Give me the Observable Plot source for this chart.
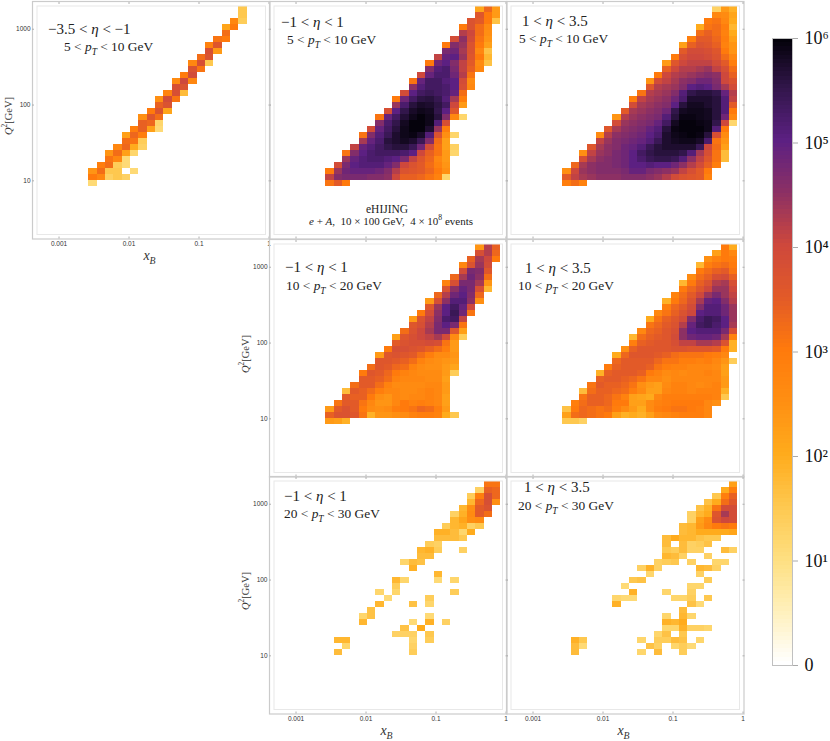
<!DOCTYPE html>
<html>
<head>
<meta charset="utf-8">
<script src="https://cdn.jsdelivr.net/npm/d3@7"></script>
<script src="https://cdn.jsdelivr.net/npm/@observablehq/plot@0.6"></script>
<style>
  html, body { margin: 0; background: #fff; }
  #page { position: relative; width: 830px; height: 741px; overflow: hidden; }
  #page svg { position: absolute; }
  .note { position: absolute; font-family: "Liberation Serif", serif; color: #222; white-space: nowrap; line-height: 1; }
  .note sub { font-size: 70%; line-height: 0; }
  .note sup { font-size: 70%; line-height: 0; }
  .axis-title { position: absolute; font-family: "Liberation Serif", serif; color: #333; white-space: nowrap; line-height: 1; }
  .axis-title sub, .axis-title sup { font-size: 70%; line-height: 0; }
</style>
</head>
<body>
<div id="page"></div>
<script>
// bin edges
const xEdges = [0.00266, 0.0035, 0.0046, 0.00605, 0.00796, 0.01047, 0.01377, 0.0181, 0.0238, 0.0313, 0.0412,
  0.0542, 0.0713, 0.0938, 0.123, 0.162, 0.213, 0.281, 0.369, 0.485, 0.638, 0.84];
const yEdges = [8.33, 10, 12, 14.4, 17.3, 20.8, 24.9, 29.9, 35.9, 43.1, 51.7, 62.1, 74.5, 89.5, 107, 129, 155,
  186, 223, 268, 321, 386, 463, 556, 667, 801, 961, 1154, 1385, 1662, 1995];

const xTicks = [0.001, 0.01, 0.1, 1];
const yTicks = [10, 100, 1000];
const barTicks = [0, 1, 2, 3, 4, 5, 6];
const barTickLabels = ["0", "10¹", "10²", "10³", "10⁴", "10⁵", "10⁶"];

// log10(counts) on the colour bar's axis
const colorStops = [0, 0.5, 1, 1.5, 2, 2.5, 3, 3.5, 4, 4.5, 5, 5.5, 6];
const colorHex = ["#ffffff", "#fff0bb", "#fedf80", "#fec84f", "#ffab1c", "#ff8f12", "#ff7a0c", "#e25a28", "#ce483c",
  "#8c3064", "#5c2082", "#32164b", "#000005"];

// each row: [row, first column, log10 counts...]; row 0 starts at Q2 = 10
const panelA = [
  [-1,0,1.1],
  [0,0,3.0,2.7,1.3,1.5,1.3],
  [1,0,2.4,3.2,1.5,1.5],[1,5,1.1],
  [2,1,2.9,3.2,1.4,1.1],
  [3,2,3.1,2.7,1.1],
  [4,2,2.4,3.2,2.2,1.2],
  [5,3,2.7,3.3,2.0,1.3],
  [6,4,3.2,3.1,1.4],
  [7,4,2.2,3.3,2.9],
  [8,5,2.9,3.4,2.2,1.1],
  [9,6,3.4,3.3,1.2],
  [10,6,2.5,3.6,3.2],
  [11,7,3.0,3.7,2.1],
  [12,8,3.4,3.7],
  [13,8,2.5,3.9,3.1],
  [14,9,2.8,3.8,1.7],
  [15,10,3.8,3.7],
  [16,10,2.6,4.0,2.7],
  [17,11,3.0,3.9],
  [18,12,3.7,3.1],
  [19,12,2.7,3.8,1.5],
  [20,13,3.2,3.7],
  [21,14,3.8,2.3],
  [22,14,2.8,3.6],
  [23,15,3.1,3.0],
  [24,16,3.2],
  [25,16,2.1,3.0],
  [26,17,2.7,1.4],
  [27,18,1.5],
  [28,18,1.5]
];
const panelB = [
  [-1,0,3.1,3.5,3.0],
  [0,0,4.1,4.6,4.7,4.7,4.7,4.6,4.6,4.5,4.0,3.4,3.4,3.3,3.1,2.8,1.2],
  [1,0,3.0,4.4,4.8,4.9,4.9,4.9,4.8,4.6,4.2,3.7,3.6,3.5,3.3,3.0,2.5],
  [2,1,3.9,4.7,5.0,5.1,5.1,5.1,4.9,4.6,4.0,3.7,3.5,3.2,2.8,2.4],
  [3,2,4.4,4.9,5.1,5.2,5.2,5.1,5.0,4.7,4.1,3.6,3.3,2.7,2.3],
  [4,2,3.1,4.6,5.0,5.2,5.3,5.3,5.3,5.2,5.0,4.0,3.4,3.1,2.3,1.2],
  [5,3,4.1,4.9,5.1,5.3,5.5,5.6,5.6,5.4,4.8,3.9,3.1,2.2,1.3],
  [6,4,4.3,4.9,5.2,5.6,5.7,5.8,5.7,5.4,4.6,3.2,2.2],
  [7,4,3.1,4.6,5.1,5.4,5.7,5.85,5.9,5.75,5.1,3.7,2.5,1.2],
  [8,5,3.9,4.9,5.3,5.6,5.85,5.95,5.95,5.7,4.4,2.9],
  [9,6,4.6,5.2,5.5,5.8,5.95,5.95,5.85,5.1,3.8],
  [10,6,3.1,4.9,5.3,5.65,5.85,5.95,5.85,5.6,4.6,2.7,1.2],
  [11,7,3.8,5.0,5.5,5.75,5.85,5.8,5.5,5.0,3.6],
  [12,8,4.4,5.2,5.6,5.75,5.7,5.55,5.3,4.0,2.3],
  [13,8,3.0,4.8,5.3,5.55,5.6,5.45,5.1,4.3,2.9],
  [14,9,3.9,5.0,5.3,5.4,5.3,5.2,4.9,3.2],
  [15,10,4.5,5.1,5.3,5.3,5.2,5.0,3.8,2.7],
  [16,10,3.1,4.9,5.3,5.3,5.1,5.0,3.9,2.6],
  [17,11,4.0,4.9,5.2,5.2,4.8,4.2,3.1],
  [18,12,4.6,5.1,5.2,4.7,4.1,3.4,2.7],
  [19,12,3.0,4.8,5.0,4.6,4.1,3.5,2.6,1.6],
  [20,13,4.1,4.9,5.0,4.4,3.6,3.0,1.8],
  [21,14,4.7,4.8,4.3,3.7,2.7,1.6],
  [22,14,3.0,4.6,4.4,3.7,3.0,2.2],
  [23,15,3.9,4.5,3.9,3.1,2.4],
  [24,16,4.2,4.0,3.2,2.5],
  [25,16,3.0,3.7,3.2,2.6],
  [26,17,3.7,3.5,3.0,1.6],
  [27,18,3.6,3.0,2.3],
  [28,18,2.1,3.3,2.3]
];
const panelC = [
  [-1,0,2.9,3.2,2.8],
  [0,0,3.5,4.1,4.3,4.4,4.5,4.5,4.5,4.6,4.6,4.6,4.5,4.4,4.2,3.9,3.7,3.6,3.5,2.8],
  [1,0,2.5,4.0,4.4,4.5,4.6,4.6,4.6,4.7,4.9,4.9,4.7,4.6,4.5,4.4,4.1,3.8,3.5,3.0],
  [2,1,3.3,4.3,4.5,4.6,4.6,4.7,4.8,5.0,5.0,5.1,5.0,5.0,4.8,4.5,4.2,3.9,3.4,2.9],
  [3,2,3.8,4.3,4.5,4.6,4.7,4.8,5.0,5.2,5.4,5.5,5.5,5.4,5.1,4.5,4.1,3.6,3.1,1.7],
  [4,2,2.5,4.1,4.4,4.5,4.7,4.8,5.0,5.3,5.5,5.6,5.6,5.6,5.5,5.1,4.3,3.8,3.1,1.7],
  [5,3,3.6,4.3,4.5,4.6,4.8,4.9,5.1,5.4,5.6,5.7,5.7,5.7,5.7,5.4,4.0,3.2,2.2],
  [6,4,4.1,4.4,4.6,4.7,4.8,4.9,5.1,5.4,5.7,5.8,5.85,5.85,5.75,5.2,3.1,2.4],
  [7,4,2.6,4.2,4.5,4.6,4.7,4.8,5.0,5.2,5.7,5.85,5.9,5.95,5.9,5.6,3.8,2.6],
  [8,5,3.6,4.3,4.5,4.6,4.7,4.9,5.1,5.6,5.9,5.95,5.95,5.95,5.85,5.1,3.0],
  [9,6,3.9,4.4,4.5,4.6,4.7,4.9,5.3,5.8,5.95,5.95,5.9,5.85,5.5,4.0,1.2],
  [10,6,2.4,4.2,4.4,4.5,4.6,4.7,5.1,5.6,5.9,5.9,5.85,5.8,5.6,4.8,2.7],
  [11,7,3.5,4.3,4.4,4.5,4.6,4.8,5.5,5.8,5.85,5.85,5.8,5.6,5.1,3.0],
  [12,8,3.9,4.3,4.4,4.5,4.6,5.0,5.6,5.8,5.8,5.7,5.6,5.1,3.5],
  [13,8,2.9,4.1,4.3,4.4,4.5,4.8,5.2,5.7,5.7,5.7,5.6,5.1,4.1],
  [14,9,3.1,4.2,4.3,4.4,4.6,5.1,5.5,5.6,5.6,5.5,4.9,4.2],
  [15,10,3.6,4.2,4.3,4.4,4.6,5.0,5.1,5.0,4.7,4.3,3.9],
  [16,10,2.4,3.9,4.1,4.3,4.5,4.6,4.8,4.8,4.6,4.0,3.7],
  [17,11,3.0,4.0,4.2,4.3,4.4,4.5,4.6,4.5,4.0,3.4],
  [18,12,3.4,4.0,4.2,4.2,4.3,4.4,4.1,3.8,3.2],
  [19,12,2.3,3.6,4.0,4.1,4.1,4.1,3.9,3.5,2.9],
  [20,13,3.0,3.8,4.0,4.0,3.9,3.7,3.2,2.7],
  [21,14,3.5,3.9,3.9,3.8,3.6,3.0,2.4],
  [22,14,2.2,3.4,3.7,3.6,3.4,2.8,2.4],
  [23,15,2.9,3.5,3.5,3.3,2.9,2.2],
  [24,16,3.2,3.4,3.2,2.8,2.0],
  [25,16,2.0,3.1,3.2,2.9,1.8],
  [26,17,3.0,3.1,2.7,2.0],
  [27,18,2.7,2.6,2.1],
  [28,18,1.3,2.3,1.9]
];
const panelD = [
  [-1,0,2.3,2.2,1.9],
  [0,0,3.4,3.7,3.7,3.6,3.1,1.9,2.4,2.4,2.5,2.6,2.8,2.9,2.9,2.8,2.0,1.5],
  [1,0,2.3,3.5,3.7,3.5,3.0,2.6,2.5,2.6,2.9,3.0,3.1,3.3,3.2,2.9,2.3],
  [2,1,3.1,3.5,3.5,3.1,2.7,2.4,2.4,2.7,3.0,2.8,2.9,2.8,2.7,2.2],
  [3,2,3.5,3.4,3.4,3.0,2.5,2.4,2.7,2.6,2.7,2.7,2.8,2.7,2.2],
  [4,2,1.7,3.5,3.4,3.2,2.9,2.7,2.7,2.6,2.6,2.7,2.8,2.7,2.3],
  [5,3,3.2,3.5,3.5,3.2,2.8,2.6,2.6,2.6,2.6,2.7,2.7,2.3],
  [6,4,3.5,3.5,3.4,3.2,2.8,2.7,2.7,2.7,2.6,2.6,2.2],
  [7,4,3.0,3.6,3.5,3.3,3.0,2.8,2.7,2.6,2.6,2.6,2.3,1.4],
  [8,5,3.2,3.6,3.5,3.3,3.2,2.8,2.6,2.5,2.5,2.3,2.1],
  [9,6,3.6,3.6,3.5,3.4,3.2,2.8,2.6,2.5,2.4,2.3],
  [10,6,2.3,3.6,3.7,3.6,3.5,3.2,2.9,2.6,2.6,2.4],
  [11,7,3.0,3.8,3.8,3.7,3.6,3.4,3.2,2.9,2.3],
  [12,8,3.5,3.7,3.8,3.8,3.9,3.8,3.1,2.3],
  [13,8,2.2,3.6,3.8,4.0,4.1,4.3,3.9,2.6,1.4],
  [14,9,3.2,3.7,4.0,4.3,4.7,4.7,3.6,2.2],
  [15,10,3.6,3.8,4.2,4.7,5.0,4.7,3.1],
  [16,10,2.3,3.7,4.1,4.6,5.2,5.3,4.1],
  [17,11,3.0,3.9,4.5,5.0,5.4,4.8,3.1],
  [18,12,3.6,4.4,5.0,5.3,4.9,4.0],
  [19,12,2.3,3.8,4.5,5.1,5.1,4.5,2.5],
  [20,13,3.3,4.2,4.8,5.0,4.6,3.3],
  [21,14,3.7,4.5,4.9,4.7,3.8,1.8],
  [22,14,2.8,3.8,4.7,4.7,4.3,2.4],
  [23,15,3.3,4.3,4.8,4.5,3.2],
  [24,16,3.9,4.7,4.6,3.6],
  [25,16,2.7,3.7,4.4,3.9],
  [26,17,3.4,4.3,4.0,3.0],
  [27,18,3.8,4.2,3.3],
  [28,18,2.4,4.2,3.4]
];
const panelE = [
  [-1,0,1.5,1.5,1.3],
  [0,0,2.2,3.2,3.3,3.2,3.1,3.0,2.2,1.9,2.0,1.9,2.2,2.6,2.7,2.8,2.9,2.9,2.9,2.7],
  [1,0,1.6,3.0,3.3,3.2,3.1,3.2,2.9,2.6,2.3,2.0,2.6,2.9,3.0,3.1,3.1,3.0,2.9,2.7],
  [2,1,2.9,3.2,3.4,3.4,3.3,3.0,3.0,2.2,2.2,2.6,2.8,2.9,3.0,3.0,3.0,3.0,2.7,2.5],
  [3,2,3.1,3.4,3.4,3.3,3.1,2.8,2.2,2.1,2.0,2.7,2.9,2.9,2.9,2.9,2.9,2.9,2.8,1.5],
  [4,2,1.7,3.2,3.4,3.4,3.3,3.2,2.9,2.6,2.2,2.2,2.7,2.8,2.8,2.7,2.8,2.8,2.8,1.9],
  [5,3,3.1,3.5,3.4,3.4,3.3,3.1,2.5,2.3,2.2,2.6,2.8,2.8,2.7,2.6,2.7,2.8,2.3],
  [6,4,3.4,3.5,3.5,3.4,3.3,3.1,2.7,2.7,2.5,2.7,2.7,2.7,2.7,2.7,2.7,2.3],
  [7,4,1.9,3.4,3.5,3.5,3.5,3.4,3.0,2.8,2.6,2.7,2.6,2.7,2.7,2.8,2.7,2.2],
  [8,5,3.0,3.4,3.5,3.5,3.5,3.4,3.1,2.9,2.8,2.8,2.7,2.7,2.7,2.6,2.2],
  [9,6,3.3,3.5,3.5,3.5,3.5,3.3,3.1,3.1,2.9,2.9,2.8,2.9,2.7,2.4,1.4],
  [10,6,2.0,3.3,3.6,3.6,3.6,3.5,3.4,3.2,3.1,3.1,3.1,3.0,2.9,2.7],
  [11,7,2.5,3.4,3.6,3.6,3.6,3.6,3.7,3.7,3.6,3.6,3.6,3.5,3.0,1.9],
  [12,8,2.9,3.4,3.5,3.6,3.6,3.8,4.1,4.1,4.3,4.3,4.2,3.7,1.9],
  [13,8,1.8,3.2,3.4,3.5,3.6,3.9,4.5,4.8,4.9,4.9,4.8,4.3,2.8],
  [14,9,2.7,3.3,3.4,3.6,3.8,4.5,5.0,5.1,5.1,5.1,4.7,3.8],
  [15,10,3.1,3.3,3.5,3.7,4.2,4.9,5.3,5.4,5.2,5.0,4.3],
  [16,10,2.0,3.1,3.4,3.6,3.9,4.6,5.2,5.4,5.3,5.0,4.4],
  [17,11,2.7,3.1,3.4,3.7,4.0,5.0,5.1,5.1,4.8,4.4],
  [18,12,2.9,3.3,3.5,3.9,4.6,5.1,5.1,4.8,4.4],
  [19,12,1.9,3.0,3.3,3.7,4.3,4.9,5.0,4.6,4.2],
  [20,13,2.8,3.2,3.5,4.0,4.4,4.7,4.4,4.1],
  [21,14,3.0,3.3,3.6,4.0,4.4,4.4,4.0],
  [22,14,1.8,3.0,3.4,3.7,4.2,4.3,3.8],
  [23,15,2.6,3.2,3.4,3.8,3.9,3.4],
  [24,16,3.0,3.2,3.4,3.5,3.1],
  [25,16,1.8,2.9,3.1,3.2,3.0],
  [26,17,2.5,2.8,3.0,2.9],
  [27,18,2.2,3.0,2.7],
  [28,19,3.0,2.0]
];
const panelF = [
  [0,1,1.7],[0,10,1.4],
  [1,2,1.2],[1,10,1.3],
  [2,1,1.8,1.8],[2,10,1.2],[2,12,1.4],
  [3,8,1.3,1.3,1.3],[3,12,1.5],
  [4,9,1.6],[4,11,2.0],
  [5,4,1.8],[5,10,1.1],[5,12,1.9],[5,14,1.3],
  [6,4,1.2,1.6],[6,12,1.1],
  [7,5,1.6],
  [8,6,1.8],[8,10,1.6],[8,12,1.2],
  [9,7,1.1],[9,12,1.4],
  [10,6,1.2],[10,8,1.2],[10,15,1.4],
  [11,8,1.4],
  [12,8,1.8,1.2],[12,13,1.1],[12,15,1.2],
  [13,13,1.8],
  [14,10,1.9],
  [15,9,1.2,1.7,1.6],
  [16,11,1.7,1.7],
  [17,11,1.8,1.9,1.4],[17,16,1.3],
  [18,12,1.4,1.3],
  [19,13,1.7,1.7,1.7,1.5],
  [20,13,1.9,1.9,1.7,1.2,2.0],
  [21,14,1.4,1.8,1.9,1.3,1.5],
  [22,15,1.8,2.1,2.5,2.6],
  [23,15,1.3,1.9,2.6,3.5,3.2],
  [24,16,1.8,2.5,3.5,3.7],
  [25,17,1.8,3.3,3.8,2.5],
  [26,17,1.4,2.9,3.8,3.3],
  [27,18,1.3,3.4,3.3],
  [28,19,3.1,3.1]
];
const panelG = [
  [0,1,1.7],[0,9,1.2],[0,11,1.7],[0,14,1.4],
  [1,1,1.7,1.1],[1,10,1.6,1.3],[1,13,1.2,1.4,1.1],
  [2,1,1.9,1.5],[2,9,1.2],[2,11,1.4,1.4,1.7,1.6],[2,16,1.2],
  [3,11,1.2,1.6],[3,14,1.5],
  [4,12,1.2,1.2,1.9,1.3,1.3,1.2],
  [5,12,1.9,1.8,2.0],
  [6,12,1.2],[6,14,1.8,1.2],
  [7,14,1.7],
  [8,6,1.9],[8,15,1.6,1.1],
  [9,6,1.2,1.1,1.1],[9,13,1.2,1.2,1.4],[9,17,1.5],
  [10,8,1.9],[10,12,1.2],[10,15,1.3],
  [11,7,1.1],[11,15,1.2,1.2],
  [12,8,1.5,1.6],[12,17,1.4],
  [13,10,1.2],[13,16,1.3],
  [14,9,1.3,1.9,1.3],[14,16,1.8,1.7,1.3],
  [15,11,1.3,1.4,1.5],[15,15,1.3],[15,18,1.2,1.2],
  [16,12,1.8,1.7,1.3],[16,17,1.3],
  [17,12,1.5,1.4,1.7,1.3,1.3],[17,19,1.7,1.3],
  [18,12,1.7],[18,14,1.7,1.3,1.4,1.6],
  [19,12,1.7,2.0,1.8,1.8,1.6,1.5,1.5],
  [20,14,1.7,1.8,2.0,2.0,2.0,2.0,2.1],
  [21,14,1.7,1.8,2.3,2.7,3.0,3.1,3.0],
  [22,15,1.3,2.2,2.6,3.7,4.0,3.9],
  [23,15,1.3,1.8,2.0,3.6,4.3,3.9],
  [24,16,1.6,1.9,3.1,3.9,3.9],
  [25,17,1.6,2.0,3.2,3.6],
  [26,18,1.5,2.9,3.4],
  [27,19,2.0,2.9],
  [28,20,2.2]
];

const etaLabels = ["−3.5 &lt; <i>η</i> &lt; −1", "−1 &lt; <i>η</i> &lt; 1", "1 &lt; <i>η</i> &lt; 3.5"];
const ptLabels = ["5 &lt; <i>p<sub>T</sub></i> &lt; 10 GeV", "10 &lt; <i>p<sub>T</sub></i> &lt; 20 GeV", "20 &lt; <i>p<sub>T</sub></i> &lt; 30 GeV"];

// where things sit on the page
const xDomain = [0.000418, 1.033];
const yDomain = [1.71, 2323];
const frameW = 237.5, frameH = 237.5;
const mLeft = 34, mRight = 2, mTop = 1, mBottom = 30;
const layout = [
  {rows: panelA, left: 31.5, top: 1, eta: 0, pt: 0, xlab: true, ylab: true, etaPos: [48, 22], ptPos: [64, 40]},
  {rows: panelB, left: 268.5, top: 1, eta: 1, pt: 0, xlab: false, ylab: false, etaPos: [281, 15], ptPos: [287, 33]},
  {rows: panelC, left: 505.5, top: 1, eta: 2, pt: 0, xlab: false, ylab: false, etaPos: [522, 14], ptPos: [519, 32]},
  {rows: panelD, left: 268.5, top: 238.5, eta: 1, pt: 1, xlab: false, ylab: true, etaPos: [285, 260], ptPos: [286, 279]},
  {rows: panelE, left: 505.5, top: 238.5, eta: 2, pt: 1, xlab: false, ylab: false, etaPos: [525, 261], ptPos: [518, 279]},
  {rows: panelF, left: 268.5, top: 476, eta: 1, pt: 2, xlab: true, ylab: true, etaPos: [284, 489], ptPos: [284, 507]},
  {rows: panelG, left: 505.5, top: 476, eta: 2, pt: 2, xlab: true, ylab: false, etaPos: [524, 480], ptPos: [518, 499]}
];

const page = document.getElementById("page");
const colorScale = {type: "linear", domain: colorStops, range: colorHex};

function toCells(rows) {
  const cells = [];
  rows.forEach(row => {
    const [r, c0, ...vals] = row;
    vals.forEach((v, i) => cells.push({r: r, c: c0 + i, v: v}));
  });
  return cells;
}

function note(html, left, top, size) {
  const el = document.createElement("div");
  el.className = "note";
  el.innerHTML = html;
  el.style.left = left + "px";
  el.style.top = top + "px";
  el.style.fontSize = size + "px";
  page.appendChild(el);
  return el;
}

function title(html, x, y, size, rotate) {
  const el = document.createElement("div");
  el.className = "axis-title";
  el.innerHTML = html;
  el.style.left = x + "px";
  el.style.top = y + "px";
  el.style.fontSize = size + "px";
  el.style.transform = "translate(-50%,-50%)" + (rotate ? " rotate(-90deg)" : "");
  page.appendChild(el);
}

const tickGray = "#b0b0b0";

layout.forEach(p => {
  const cells = toCells(p.rows);
  const marks = [
    Plot.rect(cells, {
      x1: d => xEdges[d.c],
      x2: d => xEdges[d.c + 1],
      y1: d => yEdges[d.r + 1],
      y2: d => yEdges[d.r + 2],
      fill: "v",
      shapeRendering: "crispEdges"
    }),
    Plot.frame({inset: 4.5, stroke: "#e8e8e8", strokeWidth: 1}),
    Plot.frame({stroke: "#cbcbcb", strokeWidth: 1.2}),
    Plot.axisX({anchor: "bottom", ticks: xTicks, tickSize: -2, fill: "none", stroke: tickGray, label: null}),
    Plot.axisX({anchor: "top", ticks: xTicks, tickSize: -2, fill: "none", stroke: tickGray, label: null}),
    Plot.axisY({anchor: "left", ticks: yTicks, tickSize: -2, fill: "none", stroke: tickGray, label: null}),
    Plot.axisY({anchor: "right", ticks: yTicks, tickSize: -2, fill: "none", stroke: tickGray, label: null})
  ];
  if (p.xlab) marks.push(Plot.axisX({anchor: "bottom", ticks: xTicks, tickSize: 0, tickPadding: 2, tickFormat: d => String(d), label: null, fontSize: 6.5, fill: "#333"}));
  if (p.ylab) marks.push(Plot.axisY({anchor: "left", ticks: yTicks, tickSize: 0, tickPadding: 2, tickFormat: d => String(d), label: null, fontSize: 6.5, fill: "#333"}));

  const svg = Plot.plot({
    width: frameW + mLeft + mRight,
    height: frameH + mTop + mBottom,
    marginLeft: mLeft,
    marginRight: mRight,
    marginTop: mTop,
    marginBottom: mBottom,
    style: {background: "transparent", fontFamily: "'Liberation Sans', sans-serif"},
    x: {type: "log", domain: xDomain},
    y: {type: "log", domain: yDomain},
    color: colorScale,
    marks: marks
  });
  svg.style.left = (p.left - mLeft) + "px";
  svg.style.top = (p.top - mTop) + "px";
  page.appendChild(svg);

  note(etaLabels[p.eta], p.etaPos[0], p.etaPos[1], 15);
  note(ptLabels[p.pt], p.ptPos[0], p.ptPos[1], 13.4);
  if (p.xlab) title("<i>x<sub>B</sub></i>", p.left + 118, p.top + frameH + 17, 14, false);
  if (p.ylab) title("<i>Q</i><sup>2</sup>[GeV]", p.left - 23, p.top + 115, 10.5, true);
});

note("eHIJING", 366, 204, 11.5);
note("<i>e</i> + <i>A</i>,&nbsp; 10 × 100 GeV,&nbsp; 4 × 10<sup>8</sup> events", 309, 216, 11);

// colour bar
const barLevels = d3.range(0, 6, 0.04);
const barSvg = Plot.plot({
  width: 60,
  height: 647,
  marginLeft: 2,
  marginRight: 38,
  marginTop: 10,
  marginBottom: 10,
  style: {background: "transparent", fontFamily: "'Liberation Serif', serif"},
  x: {domain: [0, 1], axis: null},
  y: {domain: [0, 6]},
  color: colorScale,
  marks: [
    Plot.rect(barLevels, {x1: 0, x2: 1, y1: d => d, y2: d => d + 0.04, fill: d => d, shapeRendering: "crispEdges"}),
    Plot.frame({stroke: "#c0c0c0", strokeWidth: 1}),
    Plot.axisY({
      anchor: "right",
      ticks: barTicks,
      tickSize: 5,
      tickPadding: 7,
      stroke: "#aaa",
      fill: "#111",
      fontSize: 18,
      label: null,
      tickFormat: d => barTickLabels[d]
    })
  ]
});
barSvg.style.left = "770px";
barSvg.style.top = "28px";
page.appendChild(barSvg);
</script>
</body>
</html>
